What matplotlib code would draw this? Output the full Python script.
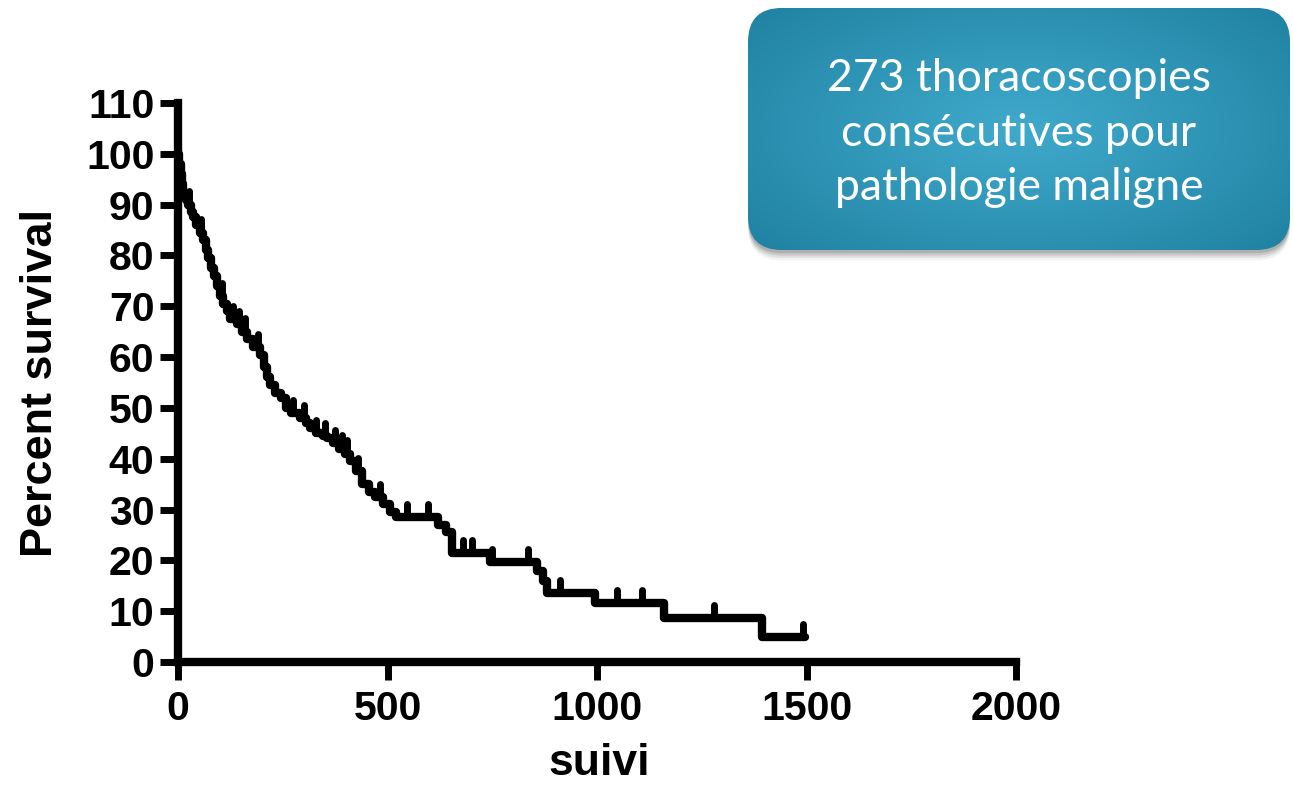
import numpy as np
import matplotlib
matplotlib.use("Agg")
import matplotlib.pyplot as plt
from matplotlib.patches import FancyBboxPatch

# Kaplan-Meier steps (days, percent)
km_time = [0, 3, 6, 9, 12, 18, 24, 30, 36, 44, 52, 60, 66, 72, 78, 85, 92, 100, 108, 116,
           125, 140, 152, 165, 180, 196, 205, 212, 220, 232, 245, 258, 270, 290, 305, 315,
           330, 345, 356, 370, 385, 398, 410, 425, 440, 455, 470, 490, 506, 520, 620, 640,
           655, 745, 857, 870, 881, 995, 1160, 1394, 1496]
km_surv = [100, 98, 96, 94, 92, 91, 90, 88.5, 87.5, 86, 84.5, 83, 81, 79.5, 77.5, 76, 74, 72,
           70.5, 69, 67.5, 66.5, 65, 63.5, 62, 60.5, 58, 56, 54.5, 53, 52, 50, 49, 48, 47, 46,
           45, 44.5, 44, 43, 42, 41, 39.5, 37.5, 35, 33.5, 32.5, 31, 29.5, 28.5, 27, 25.5,
           21.5, 19.7, 18, 16, 13.6, 11.6, 8.7, 4.9, 4.9]

# censored observations (days)
censor_time = [25, 55, 105, 130, 145, 160, 190, 274, 300, 330, 350, 375, 392, 403, 430, 482,
               547, 597, 680, 702, 749, 835, 912, 1048, 1107, 1279, 1491]

x_ticks = [0, 500, 1000, 1500, 2000]
y_ticks = list(range(0, 111, 10))

box_text = "273 thoracoscopies\nconsécutives pour\npathologie maligne"

plt.rcParams['font.family'] = ['Liberation Sans', 'DejaVu Sans']
plt.rcParams['font.weight'] = 'bold'

W, H = 12.93, 7.92
fig = plt.figure(figsize=(W, H), dpi=100)
ax = fig.add_axes([0.1377, 0.1641, 0.6481, 0.7059])

ax.plot(km_time, km_surv, drawstyle='steps-post', color='black', lw=6,
        solid_capstyle='round', solid_joinstyle='round')

idx = np.searchsorted(km_time, censor_time, side='right') - 1
censor_surv = np.array(km_surv)[idx]
ax.vlines(censor_time, censor_surv, censor_surv + 2.6, color='black', lw=5, capstyle='round')

ax.set_xlim(0, 2000)
ax.set_ylim(0, 110)
ax.set_xticks(x_ticks)
ax.set_yticks(y_ticks)
for side in ['top', 'right']:
    ax.spines[side].set_visible(False)
for side in ['left', 'bottom']:
    ax.spines[side].set_linewidth(6)
    ax.spines[side].set_capstyle('projecting')
ax.tick_params(axis='both', direction='out', length=13, width=5, labelsize=29.5)
ax.tick_params(axis='y', pad=4)
ax.tick_params(axis='x', pad=7)
for lbl in ax.get_xticklabels() + ax.get_yticklabels():
    lbl.set_fontweight('bold')

ax.set_xlabel('suivi', fontsize=32, fontweight='bold')
ax.set_ylabel('Percent survival', fontsize=32.5, fontweight='bold')
ax.xaxis.set_label_coords(0.502, -0.145)
ax.yaxis.set_label_coords(-0.14, 0.5)

# teal info box with a soft gradient and shadow
bx, by, bw, bh = 0.5785, 0.6843, 0.4192, 0.3057
radius_px = 34
for off, alpha in [(0.013, 0.05), (0.010, 0.07), (0.007, 0.10), (0.004, 0.12)]:
    fig.patches.append(FancyBboxPatch((bx, by - off), bw, bh,
                                      boxstyle="round,pad=0,rounding_size=%f" % (radius_px / (W * 100)),
                                      mutation_aspect=W / H,
                                      transform=fig.transFigure, facecolor='black',
                                      edgecolor='none', alpha=alpha, zorder=1))
bax = fig.add_axes([bx, by, bw, bh], zorder=2)
bax.set_axis_off()
gx, gy = np.meshgrid(np.linspace(-1, 1, 300), np.linspace(-1, 1, 200))
r = np.clip(np.sqrt(gx ** 2 + (gy * 0.9) ** 2), 0, 1.4)
light = np.array([64, 170, 204]) / 255
dark = np.array([30, 128, 160]) / 255
img = light[None, None, :] + (dark - light)[None, None, :] * (r[..., None] / 1.4)
im = bax.imshow(img, extent=[0, 1, 0, 1], aspect='auto', origin='lower')
bax.set_xlim(0, 1)
bax.set_ylim(0, 1)
clip = FancyBboxPatch((0, 0), 1, 1,
                      boxstyle="round,pad=0,rounding_size=%f" % (radius_px / (bw * W * 100)),
                      transform=bax.transAxes, facecolor='none', edgecolor='none',
                      mutation_aspect=bw * W / (bh * H))
bax.add_patch(clip)
im.set_clip_path(clip)
bax.text(0.5, 0.483, box_text, ha='center', va='center', color='white',
         fontsize=32, fontweight='normal', family=['Lato', 'DejaVu Sans'],
         linespacing=1.42, transform=bax.transAxes)

fig.savefig('out.png', dpi=100)
